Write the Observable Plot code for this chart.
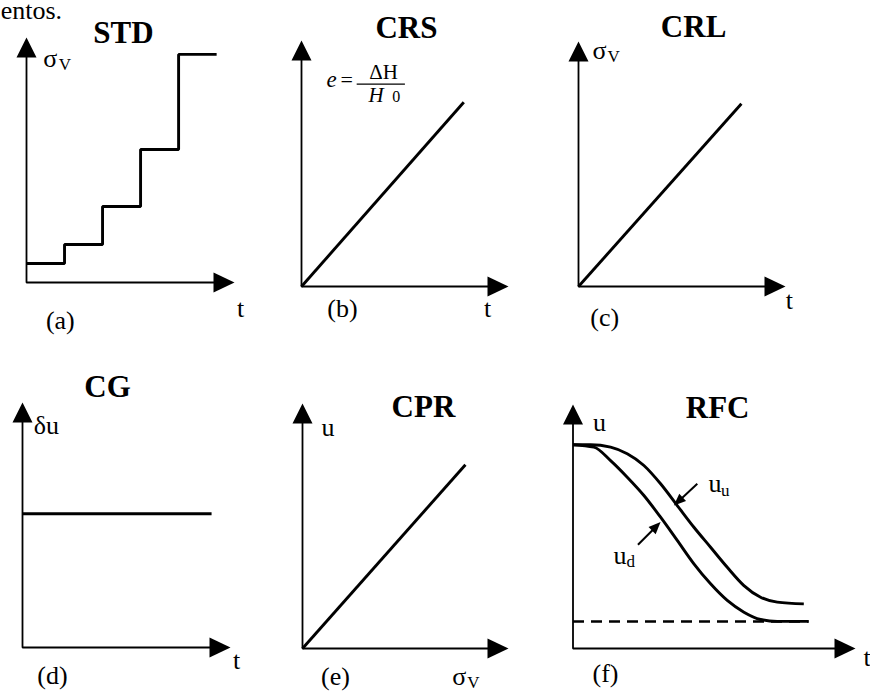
<!DOCTYPE html>
<html>
<head>
<meta charset="utf-8">
<script src="https://cdn.jsdelivr.net/npm/d3@7"></script>
<script src="https://cdn.jsdelivr.net/npm/@observablehq/plot@0.6"></script>
<style>
  html, body { margin: 0; padding: 0; background: #fff; }
  #fig { position: relative; width: 870px; height: 691px; overflow: hidden; background: #fff; }
  #fig svg { position: absolute; left: 0; top: 0; }
</style>
</head>
<body>
<div id="fig"></div>
<script>
// ---- Test types and panel tags ----
const panelTitles = ["STD", "CRS", "CRL", "CG", "CPR", "RFC"];
const panelTags = ["(a)", "(b)", "(c)", "(d)", "(e)", "(f)"];

// (a) STD: incremental loading, stress held constant in stages
const stdTime = [0, 1, 2, 3, 4, 5];
const stdStress = [1, 2, 4, 7, 12, 12];

// (b) CRS: constant rate of strain
const crsTime = [0, 7.84];
const crsStrain = [0, 7.49];

// (c) CRL: constant rate of loading
const crlTime = [0, 7.87];
const crlStress = [0, 7.46];

// (d) CG: constant gradient
const cgTime = [0, 9.09];
const cgGradient = [5.46, 5.46];

// (e) CPR: constant pore-pressure ratio
const cprStress = [0, 7.91];
const cprPressure = [0, 7.50];

// (f) RFC: restricted flow, top (u_u) and bottom (u_d) pore pressure
const rfcTimeU = [0, 0.62, 1.33, 1.92, 2.51, 3.10, 3.69, 4.28, 4.87, 5.46, 6.05, 6.64, 7.23, 8.17];
const rfcUu    = [8.35, 8.35, 8.25, 7.98, 7.50, 6.75, 5.86, 4.97, 4.15, 3.33, 2.58, 2.10, 1.90, 1.83];
const rfcTimeD = [0, 0.74, 1.33, 1.92, 2.51, 3.10, 3.69, 4.28, 4.87, 5.46, 6.05, 6.64, 7.23, 8.34];
const rfcUd    = [8.35, 8.25, 7.70, 7.02, 6.27, 5.38, 4.43, 3.47, 2.65, 1.97, 1.49, 1.19, 1.11, 1.11];
const rfcBaseTime = [0, 8.34];
const rfcBase = [1.11, 1.11];
// pointer arrows to the two curves: [from, to]
const rfcPointerU = [[4.40, 6.75], [3.57, 5.86]];
const rfcPointerD = [[2.30, 4.25], [3.10, 5.18]];

// ---- helpers ----
const W = 870, H = 691;
const SERIF = "'Liberation Serif', 'Times New Roman', 'DejaVu Serif', serif";
const LINE = 2.9, AXIS = 1.8;

const zip = (xs, ys) => xs.map((x, i) => [x, ys[i]]);

// filled triangular arrowhead, tip at the anchor, pointing at angle (deg, clockwise from up)
function arrowhead(angleDeg, length, width) {
  const a = angleDeg * Math.PI / 180;
  const ux = Math.sin(a), uy = -Math.cos(a);
  const px = Math.cos(a), py = Math.sin(a);
  return {
    draw(ctx) {
      const bx = -length * ux, by = -length * uy;
      ctx.moveTo(0, 0);
      ctx.lineTo(bx + px * width / 2, by + py * width / 2);
      ctx.lineTo(bx - px * width / 2, by - py * width / 2);
      ctx.closePath();
    }
  };
}

function label(text, x, y, o = {}) {
  return Plot.text([text], {x, y, fontFamily: SERIF, fontSize: 26, lineAnchor: "bottom", fill: "black", ...o});
}
function title(text, x, y) {
  return label(text, x, y, {fontSize: 31, fontWeight: "bold"});
}
function subLabel(main, sub, x, y, dx, dy = 3.5, o = {}) {
  return [
    label(main, x, y, {textAnchor: "start", ...o}),
    label(sub, x, y, {textAnchor: "start", dx, dy, fontSize: 17})
  ];
}
function curve(xs, ys, o = {}) {
  return Plot.line(zip(xs, ys), {x: d => d[0], y: d => d[1], stroke: "black", strokeWidth: LINE,
    strokeLinejoin: "miter", strokeLinecap: "butt", ...o});
}

// one panel: origin (ox, oy) and axis tips (tx, ty) in page pixels
function panel({ox, oy, tx, ty, xmax, ymax, marks}) {
  const kx = (tx - ox) / xmax, ky = (oy - ty) / ymax;
  const head = 20;
  const axes = [
    Plot.line([[0, ymax - head * 0.5 / ky], [0, 0], [xmax - head * 0.5 / kx, 0]],
      {x: d => d[0], y: d => d[1], stroke: "black", strokeWidth: AXIS, strokeLinejoin: "miter", strokeLinecap: "butt"}),
    Plot.dot([[0, ymax]], {x: d => d[0], y: d => d[1], symbol: arrowhead(0, 20, 20), fill: "black", stroke: "none"}),
    Plot.dot([[xmax, 0]], {x: d => d[0], y: d => d[1], symbol: arrowhead(90, 21, 20), fill: "black", stroke: "none"})
  ];
  const svg = Plot.plot({
    width: W, height: H,
    marginLeft: ox, marginRight: W - tx, marginTop: ty, marginBottom: H - oy,
    x: {domain: [0, xmax], axis: null},
    y: {domain: [0, ymax], axis: null},
    style: {background: "transparent", overflow: "visible"},
    marks: [...axes, ...marks(kx, ky)]
  });
  document.getElementById("fig").appendChild(svg);
}

// pointer line plus filled head
function pointer([from, to], kx, ky) {
  const sx = (to[0] - from[0]) * kx, sy = -(to[1] - from[1]) * ky;
  const len = Math.hypot(sx, sy);
  const angle = Math.atan2(sx, -sy) * 180 / Math.PI;
  const t = 1 - 9 / len;
  const end = [from[0] + t * (to[0] - from[0]), from[1] + t * (to[1] - from[1])];
  return [
    Plot.link([[from, end]], {x1: d => d[0][0], y1: d => d[0][1], x2: d => d[1][0], y2: d => d[1][1],
      stroke: "black", strokeWidth: 2}),
    Plot.dot([to], {x: d => d[0], y: d => d[1], symbol: arrowhead(angle, 12, 10), fill: "black", stroke: "none"})
  ];
}

// (a) STD
panel({ox: 26, oy: 282, tx: 234, ty: 37, xmax: 5.47, ymax: 12.89, marks: () => [
  label("entos.", -0.68, 13.85, {textAnchor: "start"}),
  title(panelTitles[0], 2.55, 12.6),
  ...subLabel("σ", "V", 0.44, 11.34, 15.5),
  curve(stdTime, stdStress, {curve: "step-after"}),
  label("t", 5.63, -1.84),
  label(panelTags[0], 0.89, -2.47)
]});

// (b) CRS
panel({ox: 301, oy: 286, tx: 508, ty: 40, xmax: 10, ymax: 10, marks: () => [
  title(panelTitles[1], 5.07, 10.12),
  label("e", 1.21, 8.13, {textAnchor: "start", fontStyle: "italic", fontSize: 23}),
  label("=", 1.88, 8.13, {textAnchor: "start", fontSize: 22}),
  Plot.ruleY([8.23], {x1: 2.69, x2: 5.02, stroke: "black", strokeWidth: 1.2}),
  label("ΔH", 3.96, 8.42, {fontSize: 21}),
  label("H", 3.24, 7.52, {textAnchor: "start", fontStyle: "italic", fontSize: 21}),
  label("0", 4.38, 7.52, {textAnchor: "start", fontSize: 16}),
  curve(crsTime, crsStrain),
  label("t", 8.99, -1.26),
  label(panelTags[1], 1.98, -1.26)
]});

// (c) CRL
panel({ox: 578, oy: 286, tx: 785, ty: 41, xmax: 10, ymax: 10, marks: () => [
  title(panelTitles[2], 5.56, 10.2),
  ...subLabel("σ", "V", 0.68, 9.29, 15),
  curve(crlTime, crlStress),
  label("t", 10.19, -0.91),
  label(panelTags[2], 1.27, -1.61)
]});

// (d) CG
panel({ox: 22, oy: 647, tx: 230, ty: 402, xmax: 10, ymax: 10, marks: () => [
  title(panelTitles[3], 4.09, 10.22),
  label("δu", 0.54, 8.73, {textAnchor: "start"}),
  curve(cgTime, cgGradient),
  label("t", 10.29, -0.86),
  label(panelTags[3], 1.44, -1.51)
]});

// (e) CPR
panel({ox: 302, oy: 648, tx: 508, ty: 403, xmax: 10, ymax: 10, marks: () => [
  title(panelTitles[4], 5.87, 9.44),
  label("u", 1.24, 8.69),
  curve(cprStress, cprPressure),
  ...subLabel("σ", "V", 7.27, -1.50, 15, 2.5),
  label(panelTags[4], 1.60, -1.47)
]});

// (f) RFC
panel({ox: 572.5, oy: 648, tx: 855, ty: 404, xmax: 10, ymax: 10, marks: (kx, ky) => [
  title(panelTitles[5], 5.12, 9.46),
  label("u", 0.94, 8.93),
  curve(rfcBaseTime, rfcBase, {strokeWidth: 2.5, strokeDasharray: "11,7"}),
  curve(rfcTimeU, rfcUu, {curve: "monotone-x"}),
  curve(rfcTimeD, rfcUd, {curve: "monotone-x"}),
  ...pointer(rfcPointerU, kx, ky),
  ...pointer(rfcPointerD, kx, ky),
  ...subLabel("u", "u", 4.80, 6.41, 12.5),
  ...subLabel("u", "d", 1.43, 3.48, 13),
  label("t", 10.41, -0.70),
  label(panelTags[5], 1.15, -1.39)
]});
</script>
</body>
</html>
